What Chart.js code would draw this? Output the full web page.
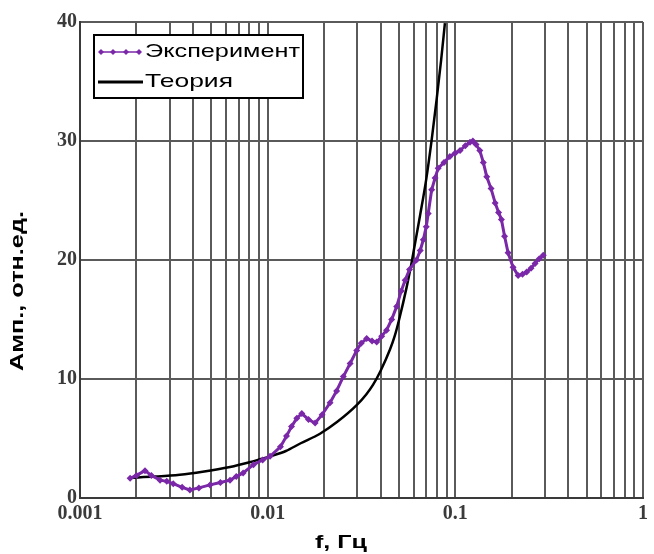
<!DOCTYPE html>
<html>
<head>
<meta charset="utf-8">
<script src="https://cdn.jsdelivr.net/npm/chart.js@4/dist/chart.umd.min.js"></script>
<style>
    html, body { margin: 0; padding: 0; background: #ffffff; }
</style>
</head>
<body>
<canvas id="graficoAmplitud" width="654" height="554"></canvas>
<script>
// DATOS (frecuencia en Гц, amplitud en отн.ед.)
const expFrec = [0.00185, 0.0020, 0.00222, 0.0024, 0.00267, 0.0029, 0.00314, 0.0035, 0.00385, 0.0043,
    0.00493, 0.0056, 0.0063, 0.0068, 0.0074, 0.0084, 0.0094, 0.0103, 0.0117, 0.0126,
    0.0134, 0.0143, 0.0152, 0.0165, 0.0179, 0.0195, 0.0215, 0.0233, 0.0253, 0.0275,
    0.0298, 0.0315, 0.0337, 0.0360, 0.0381, 0.0405, 0.0430, 0.0458, 0.0487, 0.0515,
    0.0540, 0.0570, 0.0621, 0.0650, 0.0675, 0.0700, 0.0717, 0.0748, 0.0780, 0.0810,
    0.0870, 0.0935, 0.1000, 0.1060, 0.1130, 0.1197, 0.1240, 0.1290, 0.1350, 0.1410,
    0.1470, 0.1550, 0.1630, 0.1700, 0.1760, 0.1830, 0.1910, 0.2030, 0.2160, 0.2280,
    0.2400, 0.2530, 0.2660, 0.2800, 0.2940];
const expAmp = [1.65, 1.9, 2.3, 1.9, 1.5, 1.4, 1.2, 0.9, 0.67, 0.85,
    1.1, 1.3, 1.5, 1.8, 2.1, 2.8, 3.2, 3.5, 4.3, 5.2,
    6.0, 6.7, 7.1, 6.6, 6.3, 7.0, 8.0, 9.0, 10.2, 11.3,
    12.4, 13.0, 13.4, 13.2, 13.1, 13.6, 14.1, 15.0, 16.1, 17.4,
    18.3, 19.2, 20.0, 20.8, 21.7, 22.8, 23.9, 25.9, 26.9, 27.7,
    28.2, 28.7, 29.0, 29.2, 29.6, 29.9, 30.0, 29.7, 29.2, 28.2,
    27.0, 26.0, 24.8, 24.0, 23.4, 22.0, 20.6, 19.4, 18.7, 18.8,
    19.0, 19.3, 19.7, 20.1, 20.4];

const teoFrec = [0.00185, 0.0025, 0.0034, 0.0045, 0.0063, 0.0080, 0.0091, 0.0103, 0.0125, 0.0150,
    0.0190, 0.0235, 0.0298, 0.0335, 0.0364, 0.0400, 0.0449, 0.0475, 0.0500, 0.0550,
    0.0585, 0.0648, 0.0700, 0.0748, 0.0795, 0.0840, 0.0880];
const teoAmp = [1.7, 1.8, 1.95, 2.2, 2.6, 3.0, 3.25, 3.5, 3.95, 4.6,
    5.4, 6.4, 7.8, 8.7, 9.5, 10.7, 12.5, 13.6, 14.9, 17.7,
    19.8, 23.7, 26.8, 30.1, 33.5, 36.8, 39.9];

const xTicks = [0.001, 0.01, 0.1, 1];
const xEtiquetas = ['0.001', '0.01', '0.1', '1'];
const yTicks = [0, 10, 20, 30, 40];
const nombres = ['Эксперимент', 'Теория'];
const tituloX = 'f, Гц';
const tituloY = 'Амп., отн.ед.';

const colorExp = '#7a28a8';
const colorTeo = '#000000';

// leyenda y titulos de ejes dibujados a mano
const extras = {
    id: 'extras',
    afterDatasetsDraw(chart) {
        const ctx = chart.ctx;
        ctx.save();
        // caja de la leyenda
        ctx.fillStyle = '#ffffff';
        ctx.fillRect(94, 35, 209, 63);
        ctx.strokeStyle = '#000000';
        ctx.lineWidth = 2;
        ctx.strokeRect(94, 35, 209, 63);

        // muestra experimento
        ctx.strokeStyle = colorExp;
        ctx.lineWidth = 1.5;
        ctx.beginPath();
        ctx.moveTo(99, 52);
        ctx.lineTo(141, 52);
        ctx.stroke();
        ctx.fillStyle = colorExp;
        [101, 113, 126, 139].forEach(function (px) {
            ctx.beginPath();
            ctx.moveTo(px, 49);
            ctx.lineTo(px + 3, 52);
            ctx.lineTo(px, 55);
            ctx.lineTo(px - 3, 52);
            ctx.closePath();
            ctx.fill();
        });
        // muestra teoria
        ctx.strokeStyle = colorTeo;
        ctx.lineWidth = 3;
        ctx.beginPath();
        ctx.moveTo(98, 82);
        ctx.lineTo(143, 82);
        ctx.stroke();

        ctx.fillStyle = '#000000';
        ctx.font = '19px "Liberation Sans"';
        ctx.textBaseline = 'middle';
        escribir(ctx, nombres[0], 145, 52, 155);
        escribir(ctx, nombres[1], 145, 82, 88);

        // titulos de ejes
        ctx.font = 'bold 19px "Liberation Sans"';
        ctx.textAlign = 'center';
        escribir(ctx, tituloX, 341, 543, 52, true);
        ctx.translate(18, 291);
        ctx.rotate(-Math.PI / 2);
        escribir(ctx, tituloY, 0, 0, 160, true);
        ctx.restore();
    }
};

// escribe un texto estirado hasta el ancho dado (el original esta estirado)
function escribir(ctx, texto, x, y, ancho, centrado) {
    const w = ctx.measureText(texto).width;
    const k = ancho / w;
    ctx.save();
    ctx.translate(x, y);
    ctx.scale(k, 1);
    ctx.textAlign = centrado ? 'center' : 'left';
    ctx.fillText(texto, 0, 0);
    ctx.restore();
}

const ctx = document.getElementById('graficoAmplitud').getContext('2d');
new Chart(ctx, {
    type: 'line',
    data: {
        datasets: [{
            label: nombres[0],
            data: expFrec.map((f, i) => ({ x: f, y: expAmp[i] })),
            borderColor: colorExp,
            backgroundColor: colorExp,
            borderWidth: 3,
            pointStyle: 'rectRot',
            pointRadius: 3.5,
            pointBorderWidth: 0,
            tension: 0
        }, {
            label: nombres[1],
            data: teoFrec.map((f, i) => ({ x: f, y: teoAmp[i] })),
            borderColor: colorTeo,
            backgroundColor: colorTeo,
            borderWidth: 2.5,
            pointRadius: 0,
            cubicInterpolationMode: 'monotone'
        }]
    },
    options: {
        responsive: false,
        animation: false,
        devicePixelRatio: 1,
        layout: { padding: { top: 22, right: 11, left: 0, bottom: 0 } },
        scales: {
            x: {
                type: 'logarithmic',
                min: 0.001,
                max: 1,
                afterBuildTicks: function (scale) {
                    const t = [];
                    for (let d = 0; d < xTicks.length - 1; d++) {
                        for (let k = 1; k < 10; k++) t.push({ value: xTicks[d] * k });
                    }
                    t.push({ value: xTicks[xTicks.length - 1] });
                    scale.ticks = t;
                },
                afterFit: function (scale) { scale.height = 56; },
                ticks: {
                    autoSkip: false,
                    maxRotation: 0,
                    padding: 4,
                    color: '#3a3a3a',
                    font: { family: '"Liberation Serif"', size: 20, weight: 'bold' },
                    callback: function (value) {
                        const i = xTicks.findIndex(v => Math.abs(v - value) < v * 1e-6);
                        return i >= 0 ? xEtiquetas[i] : '';
                    }
                },
                grid: { color: '#5a5a5a', lineWidth: 2, drawTicks: false },
                border: { color: '#3a3a3a', width: 2 }
            },
            y: {
                min: 0,
                max: 40,
                afterBuildTicks: function (scale) {
                    scale.ticks = yTicks.map(v => ({ value: v }));
                },
                afterFit: function (scale) { scale.width = 80; },
                ticks: {
                    padding: 3,
                    color: '#3a3a3a',
                    font: { family: '"Liberation Serif"', size: 20, weight: 'bold' }
                },
                grid: { color: '#5a5a5a', lineWidth: 2, drawTicks: false },
                border: { color: '#3a3a3a', width: 2 }
            }
        },
        plugins: {
            legend: { display: false },
            tooltip: { enabled: false }
        }
    },
    plugins: [extras]
});
</script>
</body>
</html>
